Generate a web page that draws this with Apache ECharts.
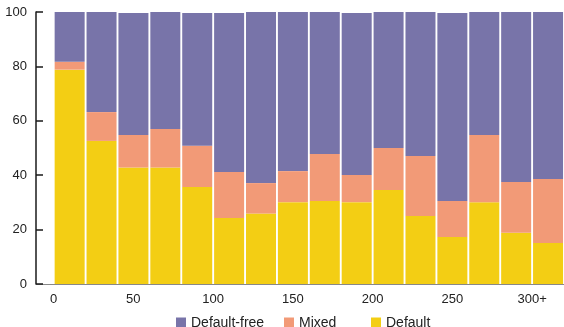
<!DOCTYPE html>
<html><head><meta charset="utf-8">
<script src="https://cdn.jsdelivr.net/npm/echarts@6/dist/echarts.min.js"></script>
<style>html,body{margin:0;padding:0;background:#fff}#c{width:564px;height:327px}</style>
</head><body><div id="c"></div>
<script>
// bins (each 20 wide); last bin is "300+"
const categories = ['0-20','20-40','40-60','60-80','80-100','100-120','120-140','140-160','160-180','180-200','200-220','220-240','240-260','260-280','280-300','300+'];
const tickValues = [0,50,100,150,200,250,300];
const tickLabels = ['0','50','100','150','200','250','300+'];
const defaultVals = [78.8,52.6,42.8,42.8,35.7,24.3,25.9,30.1,30.5,30.1,34.6,25.0,17.3,30.1,18.8,15.1];
const mixedVals = [2.9,10.6,12.0,14.2,15.1,16.9,11.2,11.4,17.3,10.0,15.4,22.1,13.2,24.7,18.7,23.5];
const defaultFreeVals = [18.3,36.8,44.8,43.0,48.8,58.4,62.9,58.5,52.2,59.5,50.0,52.9,69.1,45.2,62.5,61.4];
const seriesNames = ['Default-free','Mixed','Default'];
const colors = {'Default-free':'#7874A9','Mixed':'#F29A77','Default':'#F3CE14'};

const font = 'Liberation Sans, Arial, Helvetica, sans-serif';
const chart = echarts.init(document.getElementById('c'));
const pxPerUnit = 1.609;
const axisMin = -11, axisMax = 320;
const gridLeft = 36;
const zeroX = gridLeft + (0 - axisMin) * pxPerUnit;
const mkSeries = (name, vals) => ({
  name, type:'bar', stack:'s', data: vals, barWidth:30, xAxisIndex:1, yAxisIndex:1,
  itemStyle:{color:colors[name]}, emphasis:{disabled:true}
});
const legendLefts = [171, 279, 366];
chart.setOption({
  animation:false,
  textStyle:{fontFamily:font},
  grid:[
    {left:gridLeft, top:12, width:(axisMax-axisMin)*pxPerUnit, height:272},
    {left:zeroX, top:12, width:categories.length*20*pxPerUnit, height:272}
  ],
  xAxis:[
    {type:'value', gridIndex:0, min:axisMin, max:axisMax,
      splitLine:{show:false},
      axisTick:{show:false},
      axisLine:{show:true, onZero:false, lineStyle:{color:'#888', width:1}},
      axisLabel:{customValues:tickValues, color:'#222', fontSize:13, margin:9, fontFamily:font,
        formatter:v=>tickLabels[tickValues.indexOf(v)] ?? ''}
    },
    {type:'category', gridIndex:1, data:categories, show:false}
  ],
  yAxis:[
    {type:'value', gridIndex:0, min:0, max:100, interval:20, position:'left',
      splitLine:{show:false},
      axisLine:{show:true, onZero:false, lineStyle:{color:'#1a1a1a', width:1.5, opacity:1}},
      axisTick:{show:true, inside:true, length:7, lineStyle:{color:'#1a1a1a', width:1.5}},
      axisLabel:{color:'#222', fontSize:13, margin:9, fontFamily:font}
    },
    {type:'value', gridIndex:1, min:0, max:100, show:false}
  ],
  legend: seriesNames.map((n,i)=>({
    data:[n], left:legendLefts[i], top:311, icon:'rect', itemWidth:10, itemHeight:11,
    selectedMode:false, textStyle:{color:'#222', fontSize:14, fontFamily:font}
  })),
  series:[
    mkSeries('Default', defaultVals),
    mkSeries('Mixed', mixedVals),
    mkSeries('Default-free', defaultFreeVals)
  ]
});
</script></body></html>
